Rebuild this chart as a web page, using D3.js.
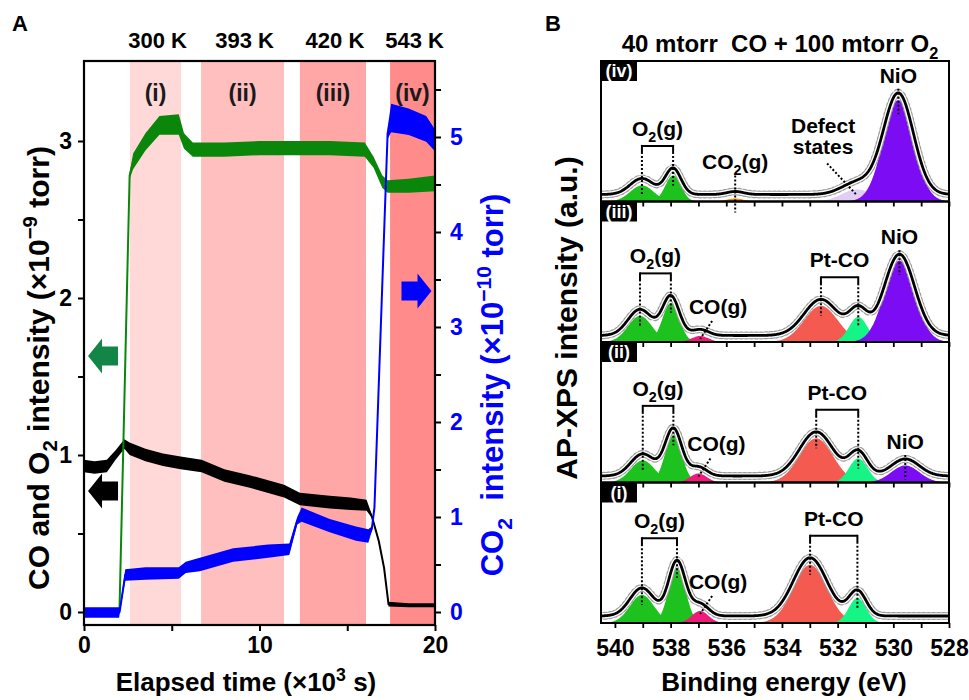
<!DOCTYPE html>
<html>
<head>
<meta charset="utf-8">
<script src="https://cdn.jsdelivr.net/npm/d3@7"></script>
<style>
body { margin: 0; background: #fff; }
text { font-family: "Liberation Sans", Arial, sans-serif; font-weight: bold; white-space: pre; }
</style>
</head>
<body>
<script>
// ---------- panel A data (time in 10^3 s) ----------
var regionStart = [2.62, 6.67, 12.3, 17.44];
var regionEnd = [5.53, 11.4, 16.07, 20];
var regionLabels = ['(i)', '(ii)', '(iii)', '(iv)'];
var regionTemps = ['300 K', '393 K', '420 K', '543 K'];

// CO (black, left axis) - low / high edge of the noisy trace
var coTime = [0, 0.6, 1.3, 1.8, 2.3, 2.6, 3.5, 4.5, 5.5, 6.7, 8.0, 9.5, 11.4, 12.3, 14.0, 15.2, 16.1, 16.4, 16.8, 17.1, 17.35, 18.5, 20];
var coLow = [0.89, 0.88, 0.89, 0.97, 1.04, 1.00, 0.96, 0.93, 0.91, 0.89, 0.83, 0.79, 0.73, 0.68, 0.66, 0.65, 0.645, 0.60, 0.44, 0.27, 0.035, 0.03, 0.03];
var coHigh = [0.97, 0.96, 0.97, 1.03, 1.10, 1.08, 1.04, 1.01, 0.99, 0.97, 0.91, 0.87, 0.81, 0.76, 0.74, 0.73, 0.715, 0.62, 0.46, 0.29, 0.065, 0.055, 0.055];

// O2 (green, left axis)
var o2Time = [0, 2.0, 2.02, 2.6, 2.8, 3.5, 4.3, 5.4, 5.7, 6.2, 8, 10, 12, 14, 16.0, 16.5, 17.0, 17.3, 18.5, 20];
var o2Low = [0, 0, 0, 2.76, 2.82, 2.94, 3.04, 3.04, 2.95, 2.90, 2.90, 2.91, 2.91, 2.91, 2.90, 2.83, 2.70, 2.67, 2.67, 2.68];
var o2High = [0, 0, 0, 2.80, 2.92, 3.05, 3.16, 3.17, 3.05, 2.99, 2.99, 3.00, 3.00, 3.00, 2.99, 2.90, 2.78, 2.75, 2.76, 2.78];

// CO2 (blue, right axis)
var co2Time = [0, 2.0, 2.05, 2.35, 3.5, 5.4, 5.8, 6.6, 8.5, 10.5, 11.7, 12.15, 12.4, 14.0, 15.5, 16.2, 16.4, 16.55, 17.3, 17.5, 18.5, 19.5, 20];
var co2Low = [-0.06, -0.06, 0.0, 0.33, 0.34, 0.35, 0.41, 0.43, 0.53, 0.57, 0.60, 0.92, 0.95, 0.84, 0.75, 0.73, 0.85, 1.08, 4.98, 5.05, 5.02, 4.95, 4.85];
var co2High = [0.05, 0.05, 0.05, 0.45, 0.47, 0.47, 0.53, 0.57, 0.67, 0.71, 0.72, 1.00, 1.10, 0.98, 0.90, 0.87, 0.90, 1.12, 5.10, 5.35, 5.30, 5.22, 5.08];

var leftTicks = [0, 0.5, 1, 1.5, 2, 2.5, 3];
var rightTicks = [0, 0.5, 1, 1.5, 2, 2.5, 3, 3.5, 4, 4.5, 5, 5.5];
var timeTicks = [0, 5, 10, 15, 20];

// ---------- panel B data (binding energy in eV, heights in a.u.) ----------
var beTicks = d3.range(528, 541, 1);
var spectraNames = ['(iv)', '(iii)', '(ii)', '(i)'];
var peakKind = [
  ['o2', 'o2', 'co2', 'defect', 'nio'],
  ['o2', 'o2', 'co', 'ptco1', 'ptco2', 'nio'],
  ['o2', 'o2', 'co', 'ptco1', 'ptco2', 'nio'],
  ['o2', 'o2', 'co', 'ptco1', 'ptco2']
];
var peakCenter = [
  [539.03, 537.91, 535.68, 531.3, 529.82],
  [539.1, 537.99, 536.94, 532.6, 531.26, 529.78],
  [539.0, 537.9, 537.0, 532.77, 531.26, 529.57],
  [539.03, 537.77, 536.94, 532.99, 531.29]
];
var peakHeight = [
  [16, 26, 3, 12, 101],
  [26, 39, 6, 36, 25, 81],
  [22, 47, 9, 44, 24, 17],
  [28, 55, 12, 58, 25]
];
var peakSigma = [
  [0.42, 0.28, 0.3, 0.55, 0.54],
  [0.43, 0.3, 0.3, 0.6, 0.33, 0.54],
  [0.43, 0.3, 0.3, 0.6, 0.33, 0.5],
  [0.43, 0.3, 0.3, 0.6, 0.31]
];
var background = [7, 6.5, 6.5, 7];

var kindColor = {
  o2: '#1ec21e', co: '#ee1a7c', co2: '#ec8a1c', defect: '#e2cdf6',
  nio: '#7c0cf4', ptco1: '#f55a50', ptco2: '#14f586'
};

var W = 969, H = 700;
var svg = d3.select('body').append('svg').attr('width', W).attr('height', H);

function rich(sel, parts, size) {
  var shift = 0;
  parts.forEach(function (p) {
    var target = p[1] === 'sub' ? size * 0.28 : p[1] === 'sup' ? -size * 0.4 : 0;
    var s = sel.append('tspan').text(p[0]).attr('dy', target - shift);
    if (p[1]) s.attr('font-size', size * 0.68);
    shift = target;
  });
  return sel;
}

// ================= PANEL A =================
var aL = 84, aR = 435, aT = 61, aB = 625;
var x = d3.scaleLinear().domain([0, 20]).range([aL, aR]);
var yL = d3.scaleLinear().domain([0, 3]).range([612, 141]);
var yR = d3.scaleLinear().domain([0, 5]).range([612, 137]);

svg.append('clipPath').attr('id', 'clipA').append('rect')
  .attr('x', aL).attr('y', aT).attr('width', aR - aL).attr('height', aB - aT);
var gA = svg.append('g').attr('clip-path', 'url(#clipA)');

var regionColors = ['#ffd8d8', '#ffbfbf', '#ffa6a6', '#ff8b8b'];
gA.selectAll('rect.reg').data(regionStart).enter().append('rect')
  .attr('x', function (d) { return x(d); })
  .attr('y', aT)
  .attr('width', function (d, i) { return x(regionEnd[i]) - x(d); })
  .attr('height', aB - aT)
  .attr('fill', function (d, i) { return regionColors[i]; });

function band(times, lo, hi, yScale, color) {
  var pts = times.map(function (t, i) { return [t, lo[i], hi[i]]; });
  gA.append('path').datum(pts)
    .attr('d', d3.area().x(function (d) { return x(d[0]); })
      .y0(function (d) { return yScale(d[1]); })
      .y1(function (d) { return yScale(d[2]); }))
    .attr('fill', color);
  gA.append('path').datum(pts)
    .attr('d', d3.line().x(function (d) { return x(d[0]); })
      .y(function (d) { return yScale((d[1] + d[2]) / 2); }))
    .attr('fill', 'none').attr('stroke', color).attr('stroke-width', 2);
}
band(coTime, coLow, coHigh, yL, '#000');
band(o2Time, o2Low, o2High, yL, '#0a870a');
band(co2Time, co2Low, co2High, yR, '#0000ff');

// region labels
svg.selectAll('text.rl').data(regionStart).enter().append('text')
  .attr('x', function (d, i) { return x((d + regionEnd[i]) / 2); })
  .attr('y', 101).attr('text-anchor', 'middle').attr('font-size', 23)
  .attr('fill', '#1a1a1a')
  .text(function (d, i) { return regionLabels[i]; });
svg.selectAll('text.rt').data(regionStart).enter().append('text')
  .attr('x', function (d, i) { return x((d + regionEnd[i]) / 2) + 2; })
  .attr('y', 48).attr('text-anchor', 'middle').attr('font-size', 22)
  .text(function (d, i) { return regionTemps[i]; });

// arrows
function arrow(tipX, cy, dir, color) {
  var L = 30, hl = 14, hh = 17.5, sh = 9.5;
  var p = [[0, 0], [hl, -hh], [hl, -sh], [L, -sh], [L, sh], [hl, sh], [hl, hh]];
  svg.append('polygon')
    .attr('points', p.map(function (q) { return (tipX + dir * q[0]) + ',' + (cy + q[1]); }).join(' '))
    .attr('fill', color);
}
arrow(x(0.23), yL(1.63), 1, '#138647');
arrow(x(0.23), yL(0.77), 1, '#000');
arrow(x(19.8), yR(3.38), -1, '#0000ff');

// axes
var axL = svg.append('g').attr('transform', 'translate(' + aL + ',0)')
  .call(d3.axisLeft(yL).tickValues(leftTicks).tickSize(6).tickPadding(6)
    .tickFormat(function (d) { return d % 1 === 0 ? d : ''; }));
var axR = svg.append('g').attr('transform', 'translate(' + aR + ',0)')
  .call(d3.axisRight(yR).tickValues(rightTicks).tickSize(6).tickPadding(9)
    .tickFormat(function (d) { return d % 1 === 0 ? d : ''; }));
axR.selectAll('text').attr('fill', '#0000ff');
var axB = svg.append('g').attr('transform', 'translate(0,' + aB + ')')
  .call(d3.axisBottom(x).tickValues(timeTicks).tickSize(6).tickPadding(6)
    .tickFormat(function (d) { return d % 10 === 0 ? d : ''; }));
[axL, axR, axB].forEach(function (a) {
  a.select('.domain').remove();
  a.selectAll('line').attr('stroke', '#000').attr('stroke-width', 2);
  a.selectAll('text').attr('font-size', 23).style('font-family', '"Liberation Sans", Arial, sans-serif').attr('font-weight', 'bold');
});
svg.append('rect').attr('x', aL).attr('y', aT).attr('width', aR - aL).attr('height', aB - aT)
  .attr('fill', 'none').attr('stroke', '#000').attr('stroke-width', 2.2);

// axis titles A
rich(svg.append('text').attr('transform', 'translate(49,368) rotate(-90)')
  .attr('text-anchor', 'middle').attr('font-size', 30),
  [['CO and O'], ['2', 'sub'], [' intensity (×10'], ['\u22129', 'sup'], [' torr)']], 30);
rich(svg.append('text').attr('transform', 'translate(503,385) rotate(-90)')
  .attr('text-anchor', 'middle').attr('font-size', 31).attr('fill', '#0000ff'),
  [['CO'], ['2', 'sub'], ['  intensity (×10'], ['\u221210', 'sup'], [' torr)']], 31);
rich(svg.append('text').attr('x', 246).attr('y', 691)
  .attr('text-anchor', 'middle').attr('font-size', 26),
  [['Elapsed time (×10'], ['3', 'sup'], [' s)']], 26);

svg.append('text').attr('x', 12).attr('y', 31).attr('font-size', 22).text('A');
svg.append('text').attr('x', 545).attr('y', 31).attr('font-size', 22).text('B');

// ================= PANEL B =================
var bL = 601, bR = 949, bT = 61, pH = 140.5;
var xB = d3.scaleLinear().domain([540.5, 528]).range([bL, bR]);
var grid = d3.range(528, 540.501, 0.02);

function gauss(e, c, h, s) { return h * Math.exp(-0.5 * Math.pow((e - c) / s, 2)); }

rich(svg.append('text').attr('x', 780).attr('y', 52).attr('text-anchor', 'middle').attr('font-size', 24),
  [['40 mtorr  CO + 100 mtorr O'], ['2', 'sub']], 24);

svg.append('clipPath').attr('id', 'clipB').append('rect')
  .attr('x', bL).attr('y', bT).attr('width', bR - bL).attr('height', pH * 4);

spectraNames.forEach(function (name, i) {
  var top = bT + i * pH, bot = top + pH;
  var y = d3.scaleLinear().domain([0, 140]).range([bot, top]);
  var g = svg.append('g').attr('clip-path', 'url(#clipB)');
  var kinds = peakKind[i];
  var env = function (e) {
    var v = background[i];
    kinds.forEach(function (k, j) { v += gauss(e, peakCenter[i][j], peakHeight[i][j], peakSigma[i][j]); });
    return v;
  };
  kinds.forEach(function (k, j) {
    g.append('path').datum(grid)
      .attr('d', d3.area().x(function (e) { return xB(e); }).y0(bot)
        .y1(function (e) { return y(gauss(e, peakCenter[i][j], peakHeight[i][j], peakSigma[i][j])); }))
      .attr('fill', kindColor[k]);
  });
  var envLine = d3.line().x(function (e) { return xB(e); }).y(function (e) { return y(env(e)); });
  g.append('path').datum(grid).attr('d', envLine).attr('fill', 'none')
    .attr('stroke', '#9a9a9a').attr('stroke-width', 8).attr('stroke-dasharray', '0.5 4.5').attr('stroke-linecap', 'round');
  g.append('path').datum(grid).attr('d', envLine).attr('fill', 'none')
    .attr('stroke', '#fff').attr('stroke-width', 5.5);
  g.append('path').datum(grid).attr('d', envLine).attr('fill', 'none')
    .attr('stroke', '#000').attr('stroke-width', 2.8);

  // annotations
  var ann = svg.append('g');
  function dotted(x1, y1, x2, y2) {
    ann.append('line').attr('x1', x1).attr('y1', y1).attr('x2', x2).attr('y2', y2)
      .attr('stroke', '#000').attr('stroke-width', 2).attr('stroke-dasharray', '2 2');
  }
  function solid(x1, y1, x2, y2) {
    ann.append('line').attr('x1', x1).attr('y1', y1).attr('x2', x2).attr('y2', y2)
      .attr('stroke', '#000').attr('stroke-width', 2);
  }
  function label(xx, yy, parts) {
    return rich(ann.append('text').attr('x', xx).attr('y', yy).attr('text-anchor', 'middle').attr('font-size', 21), parts, 21);
  }
  function bracket(j1, j2, parts) {
    var c1 = peakCenter[i][j1], c2 = peakCenter[i][j2];
    var by = y(Math.max(env(c1), env(c2))) - 22;
    var x1 = xB(c1), x2 = xB(c2);
    solid(x1, by, x2, by);
    solid(x1, by - 1, x1, by + 8);
    solid(x2, by - 1, x2, by + 8);
    dotted(x1, by + 10, x1, y(peakHeight[i][j1]) + 10);
    dotted(x2, by + 10, x2, y(peakHeight[i][j2]) + 10);
    label((x1 + x2) / 2, by - 10, parts);
  }
  function single(j, parts, off) {
    var c = peakCenter[i][j], cx = xB(c);
    var base = y(env(c)) - off;
    label(cx, base, parts);
    dotted(cx, base + 6, cx, y(peakHeight[i][j]) + 14);
  }
  function leader(j, parts) {
    var cx = xB(peakCenter[i][j]), ft = y(peakHeight[i][j]);
    label(cx + 18, ft - 22, parts);
    dotted(cx + 12, ft - 15, cx, ft + 3);
  }
  kinds.forEach(function (k, j) {
    if (k === 'o2' && j === 0) bracket(0, 1, [['O'], ['2', 'sub'], ['(g)']]);
    if (k === 'ptco1') bracket(j, j + 1, [['Pt-CO']]);
    if (k === 'nio') single(j, [['NiO']], 10);
    if (k === 'co2') single(j, [['CO'], ['2', 'sub'], ['(g)']], 22);
    if (k === 'co') leader(j, [['CO(g)']]);
    if (k === 'defect') {
      var cx = xB(peakCenter[i][j]), ft = y(peakHeight[i][j]);
      label(cx - 34, ft - 56, [['Defect']]);
      label(cx - 34, ft - 35, [['states']]);
      dotted(cx - 30, ft - 26, cx, ft + 6);
    }
  });

  // frame, ticks, name box
  var ax = svg.append('g').attr('transform', 'translate(0,' + bot + ')')
    .call(d3.axisBottom(xB).tickValues(beTicks).tickSize(5).tickPadding(12)
      .tickFormat(function (d) { return (i === 3 && d % 2 === 0) ? d : ''; }));
  ax.select('.domain').remove();
  ax.selectAll('line').attr('stroke', '#000').attr('stroke-width', 1.8);
  ax.selectAll('text').attr('font-size', 23).style('font-family', '"Liberation Sans", Arial, sans-serif').attr('font-weight', 'bold');
  svg.append('rect').attr('x', bL).attr('y', top).attr('width', bR - bL).attr('height', pH)
    .attr('fill', 'none').attr('stroke', '#000').attr('stroke-width', 2);
  svg.append('rect').attr('x', bL).attr('y', top).attr('width', 36).attr('height', 20).attr('fill', '#000');
  svg.append('text').attr('x', bL + 18).attr('y', top + 16).attr('text-anchor', 'middle')
    .attr('font-size', 18).attr('fill', '#fff').text(name);
});

svg.append('text').attr('transform', 'translate(577,318) rotate(-90)')
  .attr('text-anchor', 'middle').attr('font-size', 30).text('AP-XPS intensity (a.u.)');
svg.append('text').attr('x', 784).attr('y', 691).attr('text-anchor', 'middle')
  .attr('font-size', 26).text('Binding energy (eV)');
</script>
</body>
</html>
